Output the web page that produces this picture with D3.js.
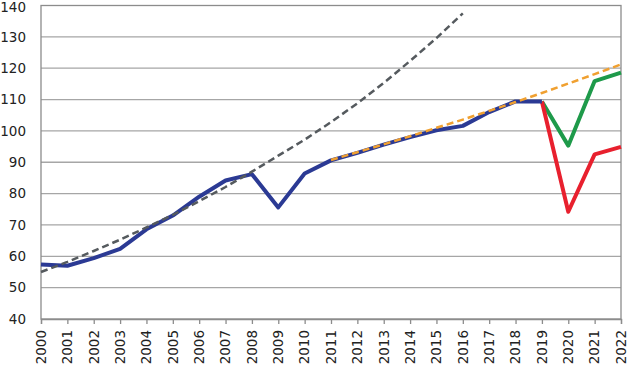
<!DOCTYPE html>
<html><head><meta charset="utf-8">
<script src="https://cdn.jsdelivr.net/npm/d3@7"></script>
<style>body{margin:0;background:#fff}svg{display:block}</style>
</head><body><svg id="c" width="630" height="366"></svg>
<script>
const years = d3.range(2000, 2023).map(String);
const yTicks = [40,50,60,70,80,90,100,110,120,130,140];
const actual = [57.4,57.0,59.4,62.4,68.6,73.0,79.0,84.2,86.2,75.6,86.4,90.6,93.0,95.6,98.0,100.2,101.6,106.0,109.4,109.4];
const actualYears = years.slice(0,20);
const scenarioGood = [109.4,95.3,115.9,118.6];
const scenarioBad = [109.4,74.2,92.5,94.9];
const scenarioYears = ["2019","2020","2021","2022"];
const trend2011 = [90.7,93.2,95.7,98.3,101.0,103.6,106.4,109.2,112.1,115.1,118.1,121.2];
const trend2011Years = years.slice(11);
const trend2000 = [55.0,58.2,61.7,65.3,69.2,73.2,77.6,82.1,87.0,92.1,97.2,102.8,108.8,115.3,122.3,129.6,137.5];
const trend2000Years = years.slice(0,17);

const svg = d3.select("#c");
const L=41, R=621, T=5.5, B=319;
const x = d3.scalePoint().domain(years).range([L,R]);
const y = d3.scaleLinear().domain([40,140]).range([B,T]);
const FONT = "DejaVu Sans, sans-serif";

svg.append("g").selectAll("line").data(yTicks.filter(d=>d>40&&d<140)).join("line")
  .attr("x1",L).attr("x2",R).attr("y1",d=>y(d)).attr("y2",d=>y(d))
  .attr("stroke","#a6a6a6").attr("stroke-width",1.3);
svg.append("rect").attr("x",L).attr("y",T).attr("width",R-L).attr("height",B-T)
  .attr("fill","none").attr("stroke","#8c8c8c").attr("stroke-width",1.3);

const yAxis = svg.append("g").attr("transform",`translate(${L},0)`)
  .call(d3.axisLeft(y).tickValues(yTicks).tickSize(0).tickPadding(15));
yAxis.select(".domain").remove();
yAxis.selectAll("text").attr("font-family",FONT).attr("font-size",13.5).attr("fill","#222")
  .attr("dy", d => d===140 ? "0.45em" : "0.32em");

const xAxis = svg.append("g").attr("transform",`translate(0,${B})`)
  .call(d3.axisBottom(x).tickSize(5).tickFormat(""));
xAxis.select(".domain").attr("stroke","#8c8c8c").attr("stroke-width",1.3);
xAxis.selectAll(".tick line").attr("stroke","#8c8c8c").attr("stroke-width",1.3);

svg.append("g").selectAll("text").data(years).join("text")
  .attr("x",d=>x(d)).attr("y",B+11)
  .attr("transform",d=>`rotate(-90,${x(d)},${B+11})`)
  .style("transform-box","view-box")
  .attr("text-anchor","end").attr("dy","0.36em")
  .attr("font-family",FONT).attr("font-size",13.5).attr("fill","#222")
  .text(d=>d);

const line = d3.line().x(d=>x(d[0])).y(d=>y(d[1]));
function draw(ys, vals, color, w, dash){
  svg.append("path").datum(ys.map((k,i)=>[k,vals[i]])).attr("d",line)
    .attr("fill","none").attr("stroke",color).attr("stroke-width",w)
    .attr("stroke-dasharray",dash||null).attr("stroke-linejoin","round");
}
draw(scenarioYears, scenarioGood, "#1e9a4a", 4);
draw(scenarioYears, scenarioBad, "#e8202e", 4);
draw(actualYears, actual, "#2b3a94", 4);
draw(trend2000Years, trend2000, "#555a5e", 2.5, "7,4");
draw(trend2011Years, trend2011, "#f0a030", 2.5, "7,4");
</script></body></html>
